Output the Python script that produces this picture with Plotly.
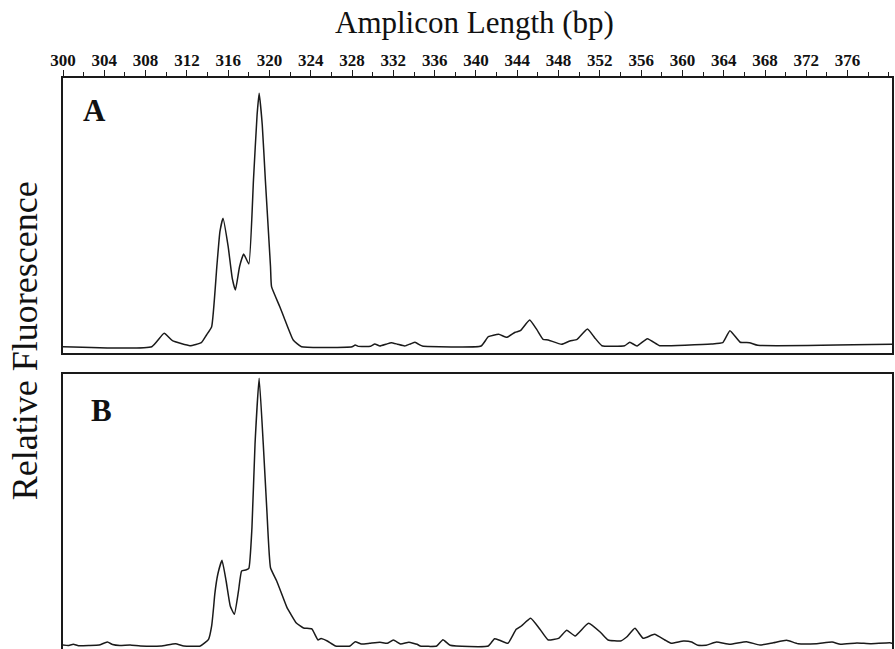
import plotly.graph_objects as go

# ---- data ----
tick_vals = list(range(300, 377, 4))
tick_text = [str(v) for v in tick_vals]

a_bp = [300.0, 308.6, 309.8, 310.6, 312.3, 313.4, 313.9, 314.4, 314.9, 315.2, 315.5, 316.0, 316.4, 316.7,
        317.1, 317.5, 318.0, 318.45, 318.8, 319.0, 319.3, 319.6, 320.1, 320.2, 321.0, 321.5, 322.3, 323.1,
        328.0, 328.3, 328.6, 329.8, 330.2, 330.7, 331.3, 331.8, 332.4, 333.1, 333.7, 334.1, 334.6, 334.8,
        340.5, 341.2, 342.2, 343.0, 343.8, 344.3, 345.2, 345.9, 346.5, 347.0, 348.3, 349.1, 349.8, 350.8,
        351.5, 352.2, 354.4, 354.9, 355.6, 356.6, 357.5, 357.8, 362.8, 363.9, 364.6, 365.6, 366.5, 367.3,
        380.4]
a_val = [0, 0, 13.4, 6, 1, 4, 11.7, 20, 80, 115, 128.4, 100, 68, 56.7,
         80, 92.7, 82.7, 166.7, 232, 253.4, 222, 166.7, 80, 60, 40, 26.7, 6.7, 0,
         0, 1.7, 0.3, 0.5, 2.7, 0.7, 2.5, 4, 2.5, 0.7, 3, 4.5, 1.5, 0.7,
         0.7, 10, 12.4, 9.4, 14.4, 16, 26.7, 17, 7.4, 6.7, 2.4, 5.7, 7.4, 17.7,
         9, 1, 1, 4.4, 0.7, 8, 2.7, 1, 2.7, 4, 16, 4.4, 4, 1.4,
         2.4]

b_bp = [300.0, 300.5, 301.0, 301.5, 302.5, 303.5, 304.3, 304.8, 305.5, 306.5, 307.5, 309.5, 310.9, 311.7,
        313.3, 314.1, 314.4, 314.6, 314.7, 315.0, 315.4, 315.8, 316.2, 316.6, 317.0, 317.3, 317.7, 318.0,
        318.3, 318.6, 319.0, 319.4, 319.75, 320.1, 320.7, 321.7, 322.0, 322.6, 323.3, 324.1, 324.7, 325.0,
        325.6, 326.4, 327.8, 328.3, 328.9, 329.7, 330.7, 331.4, 332.0, 332.7, 333.5, 334.3, 334.6, 336.2,
        336.8, 337.5, 341.2, 341.8, 342.3, 343.1, 343.9, 344.4, 345.3, 346.2, 347.0, 348.0, 348.8, 349.6,
        350.9, 352.1, 352.8, 354.0, 354.6, 355.4, 356.2, 357.3, 358.3, 358.9, 360.1, 360.9, 361.5, 362.3,
        363.3, 364.6, 366.2, 367.5, 368.8, 370.1, 371.2, 373.0, 374.5, 375.3, 376.9, 378.2, 380.1, 380.4]
b_val = [1, 0.5, 1.7, 0.3, 0.5, 1, 4, 1.5, 0.5, 1, 0, 0, 2.3, 0,
         0, 6.7, 20, 40, 51.7, 72, 85.7, 65, 40, 31.7, 55, 75, 76, 77.7,
         118, 201.7, 267.7, 201.7, 135, 78.3, 65, 38.3, 33, 23, 18, 17, 6, 7.5,
         5, 0, 0, 4.3, 2, 2.7, 3.7, 2.7, 6, 2, 3.7, 1.7, 0, 0,
         6.3, 0.7, 0, 7.3, 5.7, 2.7, 16.7, 20, 27.7, 16.7, 6, 7.7, 15.7, 10,
         22.7, 13.3, 6, 5, 9, 17.7, 7.7, 11.7, 6, 2.7, 5, 4, 0.7, 0.7,
         4, 1.7, 4.3, 1, 3.3, 5.7, 2.3, 2.3, 4, 1.7, 3, 2.3, 3.3, 2.5]

# ---- figure ----
line_col = "#1a1a1a"
serif = "Liberation Serif, Times New Roman, serif"

fig = go.Figure()
fig.add_trace(go.Scatter(x=a_bp, y=a_val, mode="lines", xaxis="x", yaxis="y",
                         line=dict(color=line_col, width=1.5, shape="spline", smoothing=0.4),
                         showlegend=False, hoverinfo="skip"))
fig.add_trace(go.Scatter(x=b_bp, y=b_val, mode="lines", xaxis="x2", yaxis="y2",
                         line=dict(color=line_col, width=1.5, shape="spline", smoothing=0.4),
                         showlegend=False, hoverinfo="skip"))

x_range = [300, 380.3]
fig.update_layout(
    width=895, height=649,
    margin=dict(l=63, r=3, t=78, b=0, autoexpand=False),
    paper_bgcolor="white", plot_bgcolor="white",
    xaxis=dict(domain=[0, 1], anchor="y", side="top", range=x_range, automargin=False,
               tickmode="array", tickvals=tick_vals, ticktext=tick_text,
               ticks="outside", ticklen=6, tickwidth=1.3, tickcolor=line_col,
               minor=dict(dtick=2, tick0=300, ticks="outside", ticklen=4, tickwidth=1.3, tickcolor=line_col),
               tickfont=dict(family=serif, size=17, color="#111", weight="bold"),
               ticklabelstandoff=-3,
               showline=True, mirror=True, linewidth=1.6, linecolor=line_col,
               showgrid=False, zeroline=False),
    yaxis=dict(domain=[0.5184, 1], anchor="x", range=[-6.3, 268.7], automargin=False,
               showticklabels=False, ticks="", showline=True, mirror=True,
               linewidth=1.6, linecolor=line_col, showgrid=False, zeroline=False),
    xaxis2=dict(domain=[0, 1], anchor="y2", side="top", range=x_range, matches="x", automargin=False,
                showticklabels=False, ticks="", showline=True, mirror=False,
                linewidth=1.6, linecolor=line_col, showgrid=False, zeroline=False),
    yaxis2=dict(domain=[0, 0.4816], anchor="x2", range=[-3, 272], automargin=False,
                showticklabels=False, ticks="", showline=True, mirror=True,
                linewidth=1.6, linecolor=line_col, showgrid=False, zeroline=False),
)

annotations = [
    dict(text="Amplicon Length (bp)", xref="paper", yref="paper", x=0.496, y=1.098,
         xanchor="center", yanchor="middle", showarrow=False,
         font=dict(family=serif, size=31, color="#111")),
    dict(text="Relative Fluorescence", xref="paper", yref="paper", x=-0.0458, y=0.539,
         xanchor="center", yanchor="middle", showarrow=False, textangle=-90,
         font=dict(family=serif, size=36, color="#111")),
    dict(text="<b>A</b>", xref="x domain", yref="y domain", x=0.038, y=0.88,
         xanchor="center", yanchor="middle", showarrow=False,
         font=dict(family=serif, size=31, color="#111")),
    dict(text="<b>B</b>", xref="x2 domain", yref="y2 domain", x=0.047, y=0.869,
         xanchor="center", yanchor="middle", showarrow=False,
         font=dict(family=serif, size=31, color="#111")),
]
fig.update_layout(annotations=annotations)

fig.write_html("out.html", config={"displayModeBar": False},
               post_script="document.body.style.margin='0';document.body.style.overflow='hidden';")
